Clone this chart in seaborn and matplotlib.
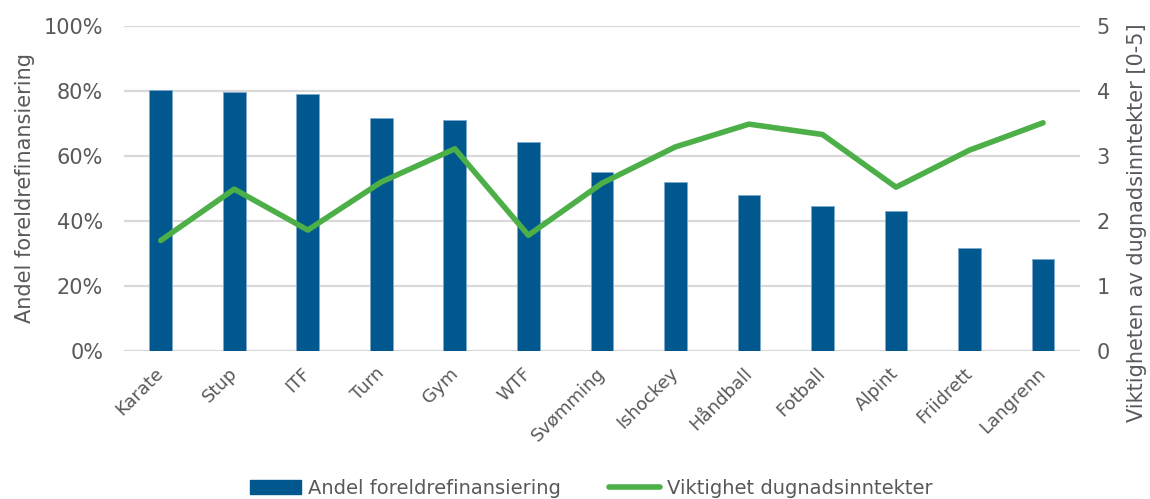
import matplotlib
matplotlib.use("Agg")
import matplotlib.pyplot as plt
import seaborn as sns
import pandas as pd
from matplotlib.patches import Patch
from matplotlib.lines import Line2D
from matplotlib.ticker import FuncFormatter

sports = ["Karate", "Stup", "ITF", "Turn", "Gym", "WTF", "Svømming",
          "Ishockey", "Håndball", "Fotball", "Alpint", "Friidrett", "Langrenn"]
parent_share = [0.803, 0.798, 0.792, 0.718, 0.712, 0.644, 0.550,
                0.520, 0.479, 0.445, 0.432, 0.318, 0.282]
dugnad_importance = [1.70, 2.49, 1.86, 2.60, 3.11, 1.78, 2.58,
                     3.14, 3.49, 3.33, 2.52, 3.09, 3.51]

BAR_COLOR = "#00588E"
LINE_COLOR = "#4CAF47"
TEXT_COLOR = "#595959"
GRID_COLOR = "#D9D9D9"

sns.set_theme(style="white")
plt.rcParams["font.family"] = ["DejaVu Sans"]

df = pd.DataFrame({"Idrett": sports, "Andel": parent_share, "Viktighet": dugnad_importance})

fig = plt.figure(figsize=(11.5, 4.99), dpi=100)
ax = fig.add_axes([0.1078, 0.2966, 0.8312, 0.6514])

sns.barplot(data=df, x="Idrett", y="Andel", order=sports, color=BAR_COLOR,
            saturation=1, width=0.31, ax=ax, zorder=2)
for p in ax.patches:
    p.set_edgecolor("#7FA9CC")
    p.set_linewidth(0.6)

ax.set_ylim(0, 1.0)
ax.set_yticks([0, 0.2, 0.4, 0.6, 0.8, 1.0])
ax.yaxis.set_major_formatter(FuncFormatter(lambda v, _: f"{v*100:.0f}%"))
ax.grid(axis="y", color=GRID_COLOR, linewidth=1.6, zorder=0)
ax.set_axisbelow(True)
ax.set_xlim(-0.5, len(sports) - 0.5)
for s in ax.spines.values():
    s.set_visible(False)
ax.set_xlabel("")
ax.set_ylabel("Andel foreldrefinansiering", fontsize=15, color=TEXT_COLOR,
              va="center", ha="center")
ax.yaxis.set_label_coords(-0.1036, 0.5)
ax.tick_params(axis="y", labelsize=15, labelcolor=TEXT_COLOR, length=0, pad=15)
ax.tick_params(axis="x", length=0, pad=14)
ax.set_xticks(range(len(sports)))
ax.set_xticklabels(sports, rotation=45, ha="right", va="center",
                   rotation_mode="anchor", fontsize=13, color=TEXT_COLOR)

ax2 = ax.twinx()
sns.lineplot(data=df, x="Idrett", y="Viktighet", sort=False, color=LINE_COLOR,
             linewidth=4, ax=ax2, zorder=3)
ax2.set_ylim(0, 5)
ax2.set_yticks([0, 1, 2, 3, 4, 5])
ax2.set_xlim(-0.5, len(sports) - 0.5)
for s in ax2.spines.values():
    s.set_visible(False)
ax2.grid(False)
ax2.set_xlabel("")
ax2.set_ylabel("Viktigheten av dugnadsinntekter [0-5]", fontsize=15,
               color=TEXT_COLOR, rotation=90, va="center", ha="center")
ax2.yaxis.set_label_coords(1.0596, 0.394)
ax2.tick_params(axis="y", labelsize=15, labelcolor=TEXT_COLOR, length=0, pad=12)

handles = [Patch(facecolor=BAR_COLOR, edgecolor=BAR_COLOR),
           Line2D([0], [0], color=LINE_COLOR, linewidth=4, solid_capstyle="round")]
labels = ["Andel foreldrefinansiering", "Viktighet dugnadsinntekter"]
fig.legend(handles, labels, loc="center", bbox_to_anchor=(0.514, 0.022), ncol=2,
           frameon=False, fontsize=14, labelcolor=TEXT_COLOR, handlelength=2.6,
           handletextpad=0.36, columnspacing=2.5)

fig.savefig("out.png", dpi=100)
